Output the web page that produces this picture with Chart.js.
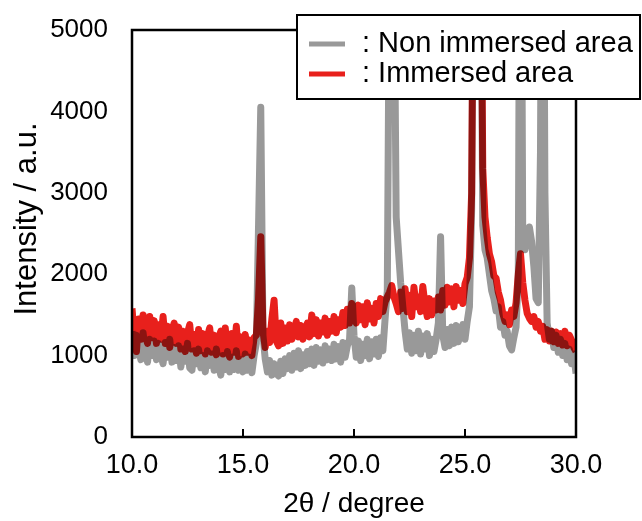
<!DOCTYPE html>
<html>
<head>
<meta charset="utf-8">
<script src="https://cdn.jsdelivr.net/npm/chart.js@4.4.0/dist/chart.umd.min.js"></script>
<style>
    html, body { margin: 0; padding: 0; background: #fff; }
    #wrap { width: 642px; height: 521px; position: relative; }
</style>
</head>
<body>
<div id="wrap"><canvas id="xrd-chart"></canvas></div>
<script>
// 2θ axis: first angle and step of the scans
const startAngle = 10.0;
const angleStep = 0.1;

// Non immersed area (one row per degree, 10.0 ... 30.0)
const nonImmersed = [
    1300, 1000, 1250, 1080, 950, 1280, 1050, 920, 1200, 1000,
    1180, 950, 1150, 1000, 900, 1160, 980, 1200, 920, 1100,
    940, 1120, 860, 1080, 930, 1150, 850, 820, 1060, 900,
    1080, 850, 1000, 800, 1060, 880, 1020, 820, 1080, 880,
    760, 1000, 830, 1050, 800, 980, 830, 1060, 820, 950,
    800, 1020, 820, 980, 790, 1000, 1150, 2600, 4050, 1250,
    960, 800, 940, 760, 900, 780, 750, 930, 780, 960,
    840, 1000, 820, 1030, 860, 1060, 840, 1010, 880, 1050,
    900, 1080, 880, 1100, 930, 1070, 910, 1120, 950, 1080,
    940, 1140, 960, 1110, 920, 1160, 980, 1120, 1200, 1830,
    1250, 980, 1180, 940, 1140, 1000, 1200, 960, 1170, 1020,
    1200, 990, 1220, 1060, 1450, 1800, 6000, 9000, 6000, 2700,
    2300, 1900, 1600, 1300, 1080, 1280, 1030, 1250, 1060, 1300,
    1020, 1240, 1080, 1270, 1000, 1200, 1050, 1200, 1400, 2460,
    1250, 1100, 1320, 1120, 1350, 1150, 1370, 1170, 1300, 1380,
    1200, 1420, 1600, 2800, 7000, 8000, 8000, 7000, 2600, 2300,
    2200, 2000, 1800, 1700, 1550, 1600, 1350, 1420, 1250, 1300,
    1120, 1070, 1220, 1350, 2000, 9000, 2500, 2300, 2450, 2580,
    2400, 2100, 1700, 1650, 3500, 9000, 3000, 1400, 1200, 1300,
    1100, 1250, 1040, 1200, 1000, 1150, 950, 1080, 900, 1020,
    780
];

// Immersed area
const immersed = [
    1580, 1250, 1050, 1450, 1200, 1500, 1250, 1150, 1480, 1220,
    1430, 1150, 1380, 1200, 1480, 1150, 1360, 1100, 1300, 1400,
    1150, 1350, 1080, 1300, 1050, 1280, 1380, 1080, 1260, 1030,
    1320, 1060, 1270, 1020, 1240, 1340, 1040, 1250, 1010, 1210,
    1300, 1020, 1340, 1060, 980, 1270, 1040, 1360, 990, 1230,
    1020, 1260, 1040, 1190, 1000, 1220, 1250, 1700, 2460, 1300,
    1100, 1300, 1160, 1450, 1680, 1180, 1120, 1400, 1150, 1340,
    1180, 1380, 1200, 1300, 1420, 1230, 1370, 1200, 1320, 1400,
    1230, 1500, 1270, 1440, 1240, 1400, 1290, 1460, 1250, 1420,
    1300, 1480, 1280, 1440, 1350, 1530, 1370, 1570, 1400, 1640,
    1480, 1400, 1620, 1440, 1600, 1380, 1650, 1450, 1580, 1400,
    1640, 1480, 1700, 1540, 1660, 1720, 1780, 1860, 1720, 1640,
    1540, 1780, 1580, 1820, 1540, 1740, 1480, 1840, 1600, 1720,
    1540, 1850, 1620, 1480, 1700, 1500, 1670, 1560, 1720, 1560,
    1800, 1620, 1840, 1660, 1820, 1600, 1850, 1680, 1800, 1640,
    1880, 1960, 2200, 3000, 7000, 8000, 8000, 7000, 3300, 2700,
    2450, 2250, 2150, 1980, 1950, 1780, 1680, 1520, 1420, 1500,
    1380, 1560, 1480, 1650, 2000, 2250, 1900, 1680, 1520, 1460,
    1420, 1480, 1350, 1420, 1300, 1360, 1200, 1320, 1180, 1300,
    1170, 1290, 1150, 1270, 1130, 1300, 1120, 1250, 1190, 1100,
    1050
];

const seriesLabels = ['Non immersed area', 'Immersed area'];
const seriesColors = ['#999999', '#e8201c'];
const xTicks = [10, 15, 20, 25, 30];
const yTicks = [0, 1000, 2000, 3000, 4000, 5000];
const yTitle = 'Intensity / a.u.';

const FONT = '"Liberation Sans", Arial, sans-serif';

function toPoints(values) {
    return values.map((v, i) => ({ x: +(startAngle + i * angleStep).toFixed(1), y: v }));
}

// overlap of the two traces darkens (multiply), frame + inner ticks + boxed legend
const framePlugin = {
    id: 'frame',
    beforeDatasetsDraw(chart) {
        chart.ctx.save();
        chart.ctx.globalCompositeOperation = 'multiply';
    },
    afterDatasetsDraw(chart) {
        chart.ctx.restore();
        const ctx = chart.ctx;
        const a = chart.chartArea;
        const xs = chart.scales.x;
        ctx.save();
        ctx.strokeStyle = '#000';
        ctx.lineWidth = 2.5;
        ctx.strokeRect(a.left, a.top, a.right - a.left, a.bottom - a.top);
        ctx.lineWidth = 2;
        xTicks.slice(1, -1).forEach(t => {
            const px = xs.getPixelForValue(t);
            ctx.beginPath();
            ctx.moveTo(px, a.bottom);
            ctx.lineTo(px, a.bottom - 8);
            ctx.stroke();
        });
        ctx.restore();
    },
    afterDraw(chart) {
        const ctx = chart.ctx;
        ctx.save();
        // y axis title
        ctx.translate(27, 219);
        ctx.rotate(-Math.PI / 2);
        ctx.font = '31px ' + FONT;
        ctx.fillStyle = '#000';
        ctx.textAlign = 'center';
        ctx.textBaseline = 'middle';
        ctx.fillText(yTitle, 0, 0);
        ctx.restore();

        // legend
        ctx.save();
        ctx.fillStyle = '#fff';
        ctx.fillRect(297, 15, 343, 84);
        ctx.strokeStyle = '#000';
        ctx.lineWidth = 2;
        ctx.strokeRect(297, 15, 343, 84);
        ctx.font = '29px ' + FONT;
        ctx.textBaseline = 'middle';
        chart.data.datasets.forEach((ds, i) => {
            const y = 44 + i * 30;
            ctx.strokeStyle = ds.borderColor;
            ctx.lineWidth = 5;
            ctx.beginPath();
            ctx.moveTo(309, y);
            ctx.lineTo(345, y);
            ctx.stroke();
            ctx.fillStyle = '#000';
            ctx.fillText(': ' + ds.label, 362, y);
        });
        ctx.restore();
    }
};

const lineStyle = {
    borderWidth: 7,
    pointRadius: 0,
    tension: 0,
    borderJoinStyle: 'round',
    fill: false
};

new Chart(document.getElementById('xrd-chart'), {
    type: 'line',
    data: {
        datasets: [
            Object.assign({ label: seriesLabels[0], data: toPoints(nonImmersed), borderColor: seriesColors[0] }, lineStyle),
            Object.assign({ label: seriesLabels[1], data: toPoints(immersed), borderColor: seriesColors[1] }, lineStyle)
        ]
    },
    options: {
        responsive: true,
        maintainAspectRatio: false,
        animation: false,
        layout: { padding: { top: 30, right: 66, left: 0, bottom: 0 } },
        plugins: {
            legend: { display: false },
            tooltip: { enabled: false }
        },
        scales: {
            x: {
                type: 'linear',
                min: 10,
                max: 30,
                afterBuildTicks: s => { s.ticks = xTicks.map(v => ({ value: v })); },
                afterFit: s => { s.height = 84; },
                grid: { display: false, drawTicks: false },
                border: { display: false },
                ticks: {
                    padding: 12,
                    color: '#000',
                    maxRotation: 0,
                    font: { family: FONT, size: 27 },
                    callback: v => v.toFixed(1)
                },
                title: {
                    display: true,
                    text: '2θ / degree',
                    color: '#000',
                    font: { family: FONT, size: 28 },
                    padding: { top: 0, bottom: 0 }
                }
            },
            y: {
                min: 0,
                max: 5000,
                afterBuildTicks: s => { s.ticks = yTicks.map(v => ({ value: v })); },
                afterFit: s => { s.width = 132; },
                grid: {
                    drawOnChartArea: false,
                    drawTicks: true,
                    tickLength: 24,
                    tickColor: 'rgba(0,0,0,0)'
                },
                border: { display: false },
                ticks: {
                    padding: 0,
                    color: '#000',
                    font: { family: FONT, size: 26 },
                    callback: v => String(v)
                }
            }
        }
    },
    plugins: [framePlugin]
});
</script>
</body>
</html>
